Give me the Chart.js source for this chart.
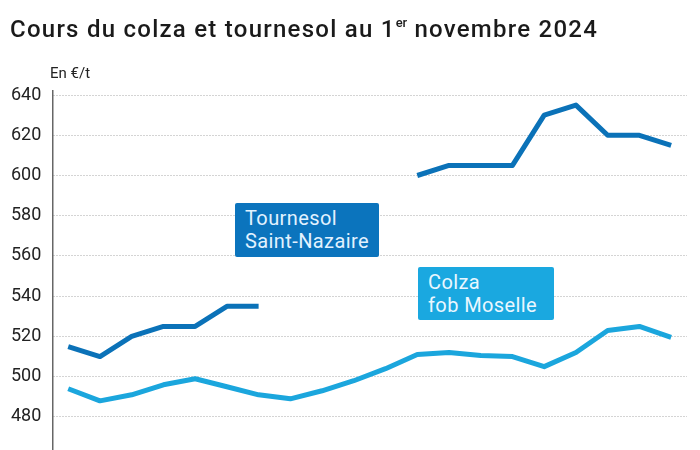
<!DOCTYPE html>
<html>
<head>
<meta charset="utf-8">
<script src="https://cdn.jsdelivr.net/npm/chart.js@4"></script>
<style>
  html, body { margin:0; padding:0; background:#fff; }
  #wrap { position:relative; width:700px; height:450px; overflow:hidden; font-family: Roboto, "Noto Sans", sans-serif; }
  #c { position:absolute; left:0; top:0; }
  #title { position:absolute; left:10px; top:15px; font-size:24px; font-weight:500; color:#1a1a1a; white-space:nowrap; letter-spacing:1.25px; }
  #title sup { font-size:13px; vertical-align:0; position:relative; top:-10px; margin-left:0px; letter-spacing:0; }
  #unit { position:absolute; left:50px; top:64px; font-size:15px; color:#222; }
  .tag { position:absolute; color:#e2f2ff; font-size:20px; line-height:23px; letter-spacing:0.4px; border-radius:2px; padding:4px 8px 4px 10px; box-sizing:border-box; white-space:nowrap; }
  #tagT { left:235px; top:203px; width:144px; height:54px; background:#0b74bd; }
  #tagC { left:418px; top:267px; width:136px; height:53px; background:#1aa8e0; color:#eaf7ff; }
</style>
</head>
<body>
<div id="wrap">
  <canvas id="c" width="700" height="480"></canvas>
  <div id="title">Cours du colza et tournesol au 1<sup>er</sup> novembre 2024</div>
  <div id="unit">En €/t</div>
  <div class="tag" id="tagT">Tournesol<br>Saint-Nazaire</div>
  <div class="tag" id="tagC">Colza<br>fob Moselle</div>
</div>
<script>
const categories = ['1','2','3','4','5','6','7','8','9','10','11','12','13','14','15','16','17','18','19','20'];
const tournesolValues = [515, 510, 520, 525, 525, 535, 535, null, null, null, null, 600, 605, 605, 605, 630, 635, 620, 620, 615];
const colzaValues = [494, 488, 491, 496, 499, 495, 491, 489, 493, 498, 504, 511, 512, 510.5, 510, 505, 512, 523, 525, 519.5];
const yTickValues = [480, 500, 520, 540, 560, 580, 600, 620, 640];

new Chart(document.getElementById('c'), {
  type: 'line',
  data: {
    labels: categories,
    datasets: [
      { label: 'Tournesol Saint-Nazaire', data: tournesolValues, borderColor: '#0b72b8', borderWidth: 5, pointRadius: 0, tension: 0, spanGaps: false, borderJoinStyle: 'round', borderCapStyle: 'butt' },
      { label: 'Colza fob Moselle', data: colzaValues, borderColor: '#1ba6dd', borderWidth: 5, pointRadius: 0, tension: 0, borderJoinStyle: 'round' }
    ]
  },
  options: {
    responsive: false,
    animation: false,
    layout: { padding: { top: 91, left: 0, right: 13, bottom: 0 } },
    plugins: { legend: { display: false }, tooltip: { enabled: false }, title: { display: false } },
    scales: {
      x: { display: false, offset: true },
      y: {
        min: 459.5, max: 642,
        afterBuildTicks: (axis) => { axis.ticks = yTickValues.map(v => ({ value: v })); },
        ticks: { font: { family: 'Roboto', size: 18 }, color: '#222', padding: 11 },
        grid: { color: '#a9a9a9', lineWidth: 1, drawTicks: false },
        border: { display: true, color: '#666', width: 1.5, dash: [1, 2] }
      }
    }
  }
});
</script>
</body>
</html>
